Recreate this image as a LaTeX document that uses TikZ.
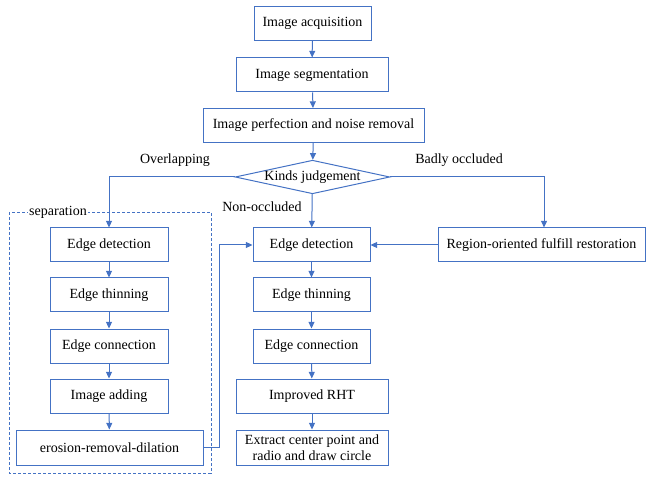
\documentclass[tikz,border=0pt]{standalone}
\usepackage{fontspec}
\setmainfont{Liberation Serif}
\usepackage{xcolor}
\usetikzlibrary{shapes.geometric, arrows.meta, positioning}
\definecolor{flowblue}{RGB}{68,114,196}

\begin{document}
\begin{tikzpicture}[
    x=0.75pt, y=-0.75pt,
    stepbox/.style={rectangle, draw=flowblue, line width=0.75pt, fill=white,
                    minimum width=#1, minimum height=25.5pt, inner sep=1pt, align=center},
    judgebox/.style={diamond, draw=flowblue, line width=0.75pt, aspect=4.6, inner sep=0pt,
                     minimum width=113.25pt, minimum height=24.75pt},
    flow/.style={draw=flowblue, line width=0.75pt, -{Triangle[length=5pt, width=4.5pt]}},
    font=\fontsize{10.5}{12}\selectfont
]
    \useasboundingbox (0,0) rectangle (646,477);

    % Main column
    \node[stepbox=87.75pt] (acquire) at (312.5,23.5) {Image acquisition};
    \node[stepbox=114pt] (segment) at (312,75) {Image segmentation};
    \node[stepbox=165.75pt] (perfect) at (313.5,125.5) {Image perfection and noise removal};
    \node[judgebox] (judge) at (312.5,177) {Kinds judgement};

    % Separation frame
    \draw[flowblue, line width=0.6pt, dash pattern=on 2.25pt off 1.5pt] (9,212) rectangle (211,473);
    \node[fill=white, inner sep=1pt] (seplabel) at (58,212) {separation};

    % Left column
    \node[stepbox=88.5pt] (edgeL) at (109,245) {Edge detection};
    \node[stepbox=88.5pt] (thinL) at (109,295) {Edge thinning};
    \node[stepbox=88.5pt] (connL) at (109,346) {Edge connection};
    \node[stepbox=88.5pt] (adding) at (109,396) {Image adding};
    \node[stepbox=140.25pt, minimum height=26.25pt] (erosion) at (109.5,447.5) {erosion-removal-dilation};

    % Middle column
    \node[stepbox=87.75pt] (edgeM) at (311.5,245) {Edge detection};
    \node[stepbox=87.75pt] (thinM) at (311.5,295) {Edge thinning};
    \node[stepbox=87.75pt] (connM) at (311.5,346) {Edge connection};
    \node[stepbox=114pt] (rht) at (312,396) {Improved RHT};
    \node[stepbox=114pt, minimum height=26.25pt] (extract) at (312,447.5) {Extract center point and\\radio and draw circle};

    % Right column
    \node[stepbox=155.25pt] (region) at (541.5,245) {Region-oriented fulfill restoration};

    % Branch labels
    \node (overlap) at (175,160) {Overlapping};
    \node (badly) at (459,160) {Badly occluded};
    \node (nonocc) at (262,207) {Non-occluded};

    % Connectors
    \draw[flow] (acquire) -- (segment);
    \draw[flow] (segment) -- (perfect);
    \draw[flow] (perfect) -- (judge);
    \draw[flow] (judge.west) -| (edgeL.north);
    \draw[flow] (judge.east) -| ([xshift=1.9pt]region.north);
    \draw[flow] (judge) -- (edgeM);
    \draw[flow] (region) -- (edgeM);
    \draw[flow] (edgeL) -- (thinL);
    \draw[flow] (thinL) -- (connL);
    \draw[flow] (connL) -- (adding);
    \draw[flow] (adding) -- (erosion);
    \draw[flow] (edgeM) -- (thinM);
    \draw[flow] (thinM) -- (connM);
    \draw[flow] (connM) -- (rht);
    \draw[flow] (rht) -- (extract);
    \draw[flow] (erosion.east) -- ++(16,0) |- (edgeM.west);
\end{tikzpicture}
\end{document}
